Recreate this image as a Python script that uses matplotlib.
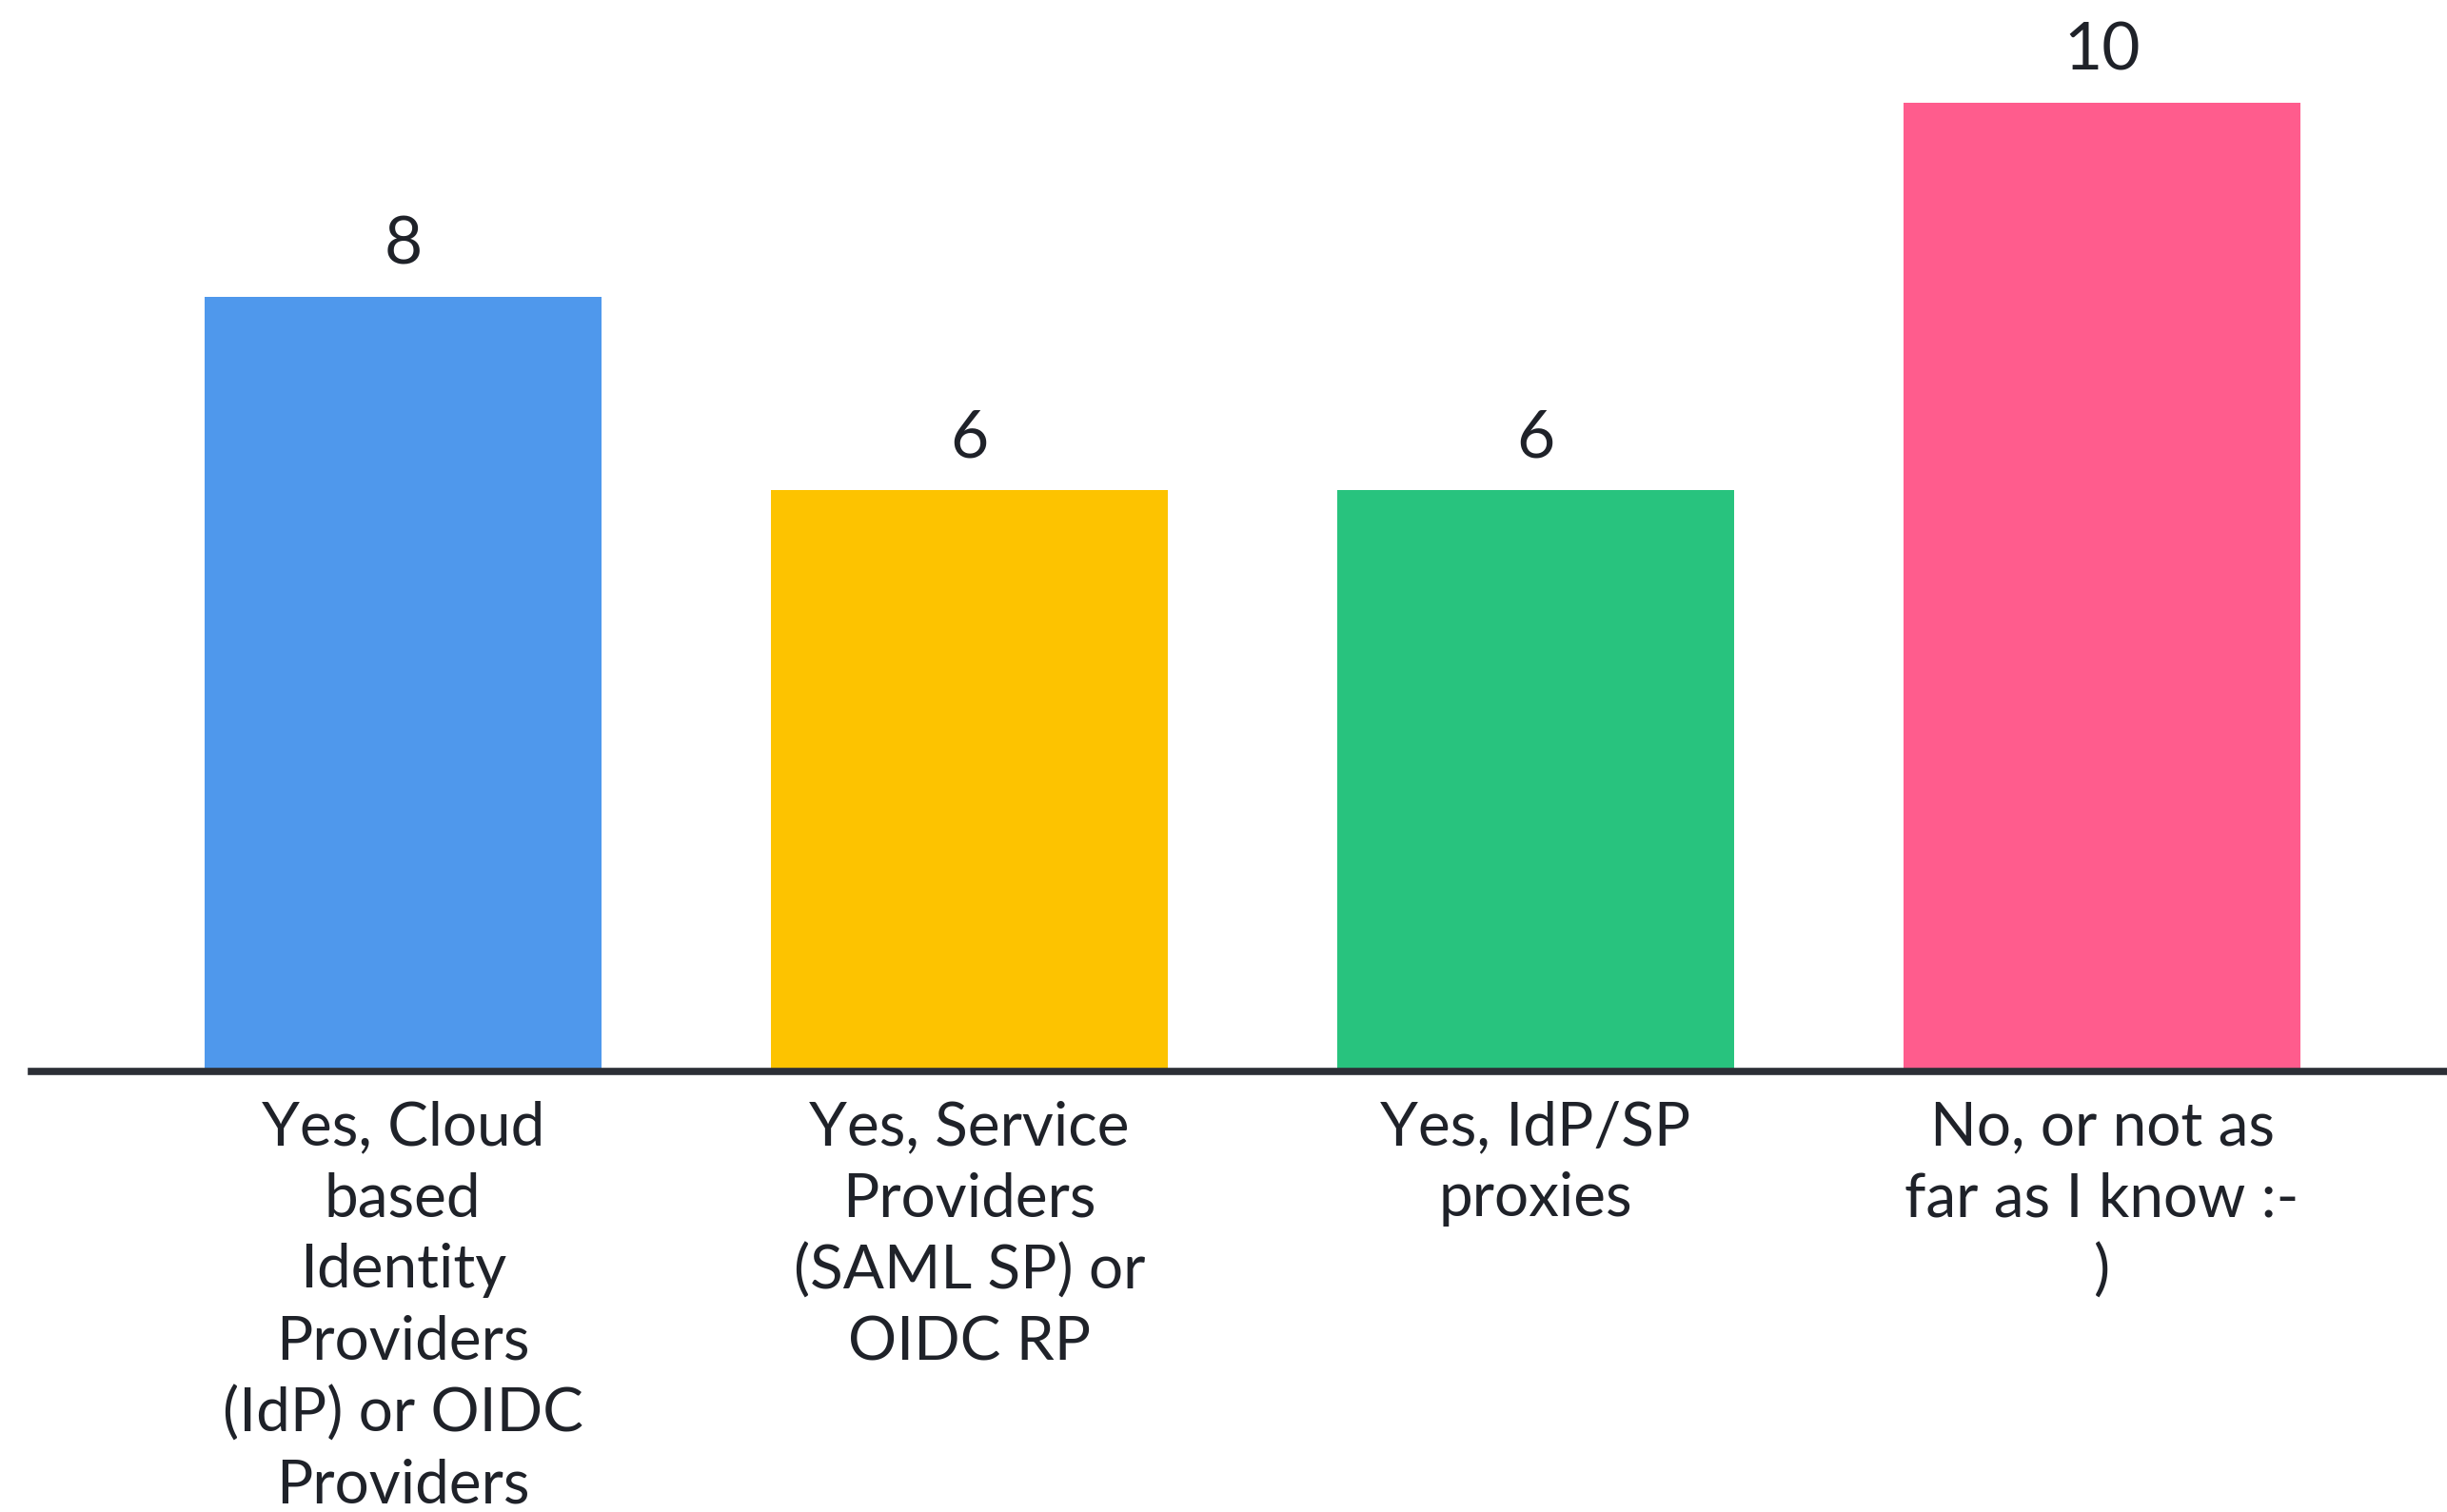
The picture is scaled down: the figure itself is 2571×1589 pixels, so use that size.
import matplotlib
matplotlib.use("Agg")
import matplotlib.pyplot as plt

categories = [
    "Yes, Cloud\nbased\nIdentity\nProviders\n(IdP) or OIDC\nProviders",
    "Yes, Service\nProviders\n(SAML SP) or\nOIDC RP",
    "Yes, IdP/SP\nproxies",
    "No, or not as\nfar as I know :-\n)",
]
values = [8, 6, 6, 10]
colors = ["#4F98EC", "#FDC300", "#28C37E", "#FF5C8D"]

plt.rcParams['font.family'] = ['Lato', 'DejaVu Sans']

fig = plt.figure(figsize=(25.71, 15.89), dpi=100)
ax = fig.add_axes([0.0128, 0.2915, 0.9872, 0.6405])

x = list(range(len(values)))
bars = ax.bar(x, values, width=0.70, color=colors, zorder=2)
for xi, v in zip(x, values):
    ax.annotate(str(v), (xi, v), xytext=(0, 16), textcoords='offset points',
                ha='center', va='bottom', fontsize=50, color='#1f2229')

ax.set_xlim(-0.656, 3.609)
ax.set_ylim(0, 10)
ax.set_xticks(x)
ax.set_xticklabels(categories, fontsize=46, color='#1f2229', linespacing=1.36)
ax.tick_params(axis='x', length=0, pad=22)
ax.set_yticks([])
for s in ['top', 'right', 'left']:
    ax.spines[s].set_visible(False)
ax.spines['bottom'].set_linewidth(5.5)
ax.spines['bottom'].set_color('#2c2f36')
ax.spines['bottom'].set_zorder(3)
ax.patch.set_alpha(0)

fig.savefig("out.png", dpi=100, facecolor='white')
